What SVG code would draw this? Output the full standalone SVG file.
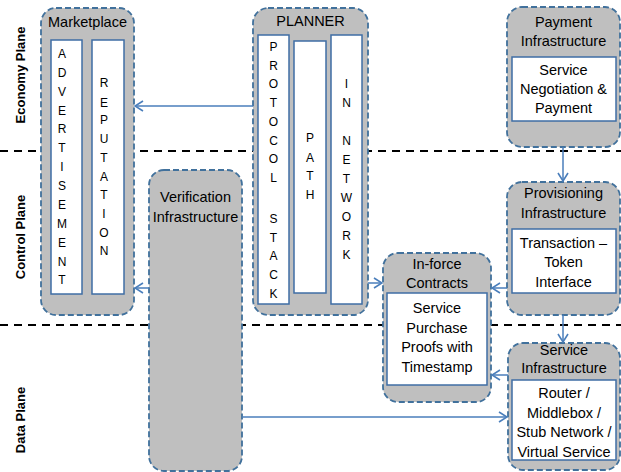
<svg xmlns="http://www.w3.org/2000/svg" width="621" height="472" viewBox="0 0 621 472">
<defs>
<style>
.outer{fill:#bfbfbf;stroke:#41719c;stroke-width:1.8;stroke-dasharray:6,3}
.inner{fill:#ffffff;stroke:#3f6ea5;stroke-width:1.5}
.t{font-family:"Liberation Sans",Arial,sans-serif;font-size:14.5px;fill:#000;text-anchor:middle}
.v{font-family:"Liberation Sans",Arial,sans-serif;font-size:12px;fill:#000;text-anchor:middle}
.plane{font-family:"Liberation Sans",Arial,sans-serif;font-size:13px;font-weight:bold;fill:#000;text-anchor:middle}
.sep{stroke:#000;stroke-width:2;stroke-dasharray:8,6;fill:none}
.conn{stroke:#4a7ebb;stroke-width:1.5;fill:none;marker-end:url(#ah)}
</style>
<marker id="ah" viewBox="0 0 10 12" refX="9" refY="6" markerWidth="10" markerHeight="12" markerUnits="userSpaceOnUse" orient="auto">
<path d="M1,1 L9,6 L1,11" fill="none" stroke="#4a7ebb" stroke-width="1.6"/>
</marker>
</defs>

<g id="planes">
<line class="sep" x1="0" y1="151" x2="621" y2="151"/>
<line class="sep" x1="0" y1="325" x2="621" y2="325"/>
<text class="plane" transform="translate(24.5,75) rotate(-90)">Economy Plane</text>
<text class="plane" transform="translate(24.5,237) rotate(-90)">Control Plane</text>
<text class="plane" transform="translate(24.5,420) rotate(-90)">Data Plane</text>
</g>

<g id="marketplace">
<rect class="outer" x="41" y="8" width="93" height="307" rx="15"/>
<text class="t" x="87.5" y="27">Marketplace</text>
<rect class="inner" x="51" y="40" width="31" height="254"/>
<rect class="inner" x="92" y="40" width="32" height="254"/>
<g class="v">
<text x="62" y="57.5">A</text><text x="62" y="76.5">D</text><text x="62" y="95.5">V</text><text x="62" y="114.5">E</text><text x="62" y="132.5">R</text><text x="62" y="151.5">T</text><text x="62" y="170.5">I</text><text x="62" y="189.5">S</text><text x="62" y="208.5">E</text><text x="62" y="227.5">M</text><text x="62" y="246.5">E</text><text x="62" y="265.5">N</text><text x="62" y="283.5">T</text>
</g>
<g class="v">
<text x="104" y="86.5">R</text><text x="104" y="106.5">E</text><text x="104" y="123.5">P</text><text x="104" y="142.5">U</text><text x="104" y="161.5">T</text><text x="104" y="180.5">A</text><text x="104" y="198.5">T</text><text x="104" y="217.5">I</text><text x="104" y="236.5">O</text><text x="104" y="254.5">N</text>
</g>
</g>

<g id="verification">
<rect class="outer" x="149" y="170" width="93" height="301" rx="15"/>
<text class="t" x="195.5" y="202">Verification</text>
<text class="t" x="195.5" y="222">Infrastructure</text>
</g>

<g id="planner">
<rect class="outer" x="253" y="8" width="115" height="307" rx="15"/>
<text class="t" x="310.5" y="26">PLANNER</text>
<rect class="inner" x="258" y="35" width="31" height="269"/>
<rect class="inner" x="294" y="41" width="32" height="252"/>
<rect class="inner" x="331" y="35" width="31" height="269"/>
<g class="v">
<text x="273.5" y="50.5">P</text><text x="273.5" y="69.5">R</text><text x="273.5" y="87.5">O</text><text x="273.5" y="106.5">T</text><text x="273.5" y="125.5">O</text><text x="273.5" y="144.5">C</text><text x="273.5" y="162.5">O</text><text x="273.5" y="181.5">L</text><text x="273.5" y="222.5">S</text><text x="273.5" y="241.5">T</text><text x="273.5" y="259.5">A</text><text x="273.5" y="278.5">C</text><text x="273.5" y="297.5">K</text>
</g>
<g class="v">
<text x="310" y="141.5">P</text><text x="310" y="161.5">A</text><text x="310" y="179.5">T</text><text x="310" y="198.5">H</text>
</g>
<g class="v">
<text x="346.5" y="87.5">I</text><text x="346.5" y="106.5">N</text><text x="346.5" y="144.5">N</text><text x="346.5" y="163.5">E</text><text x="346.5" y="182.5">T</text><text x="346.5" y="201.5">W</text><text x="346.5" y="220.5">O</text><text x="346.5" y="239.5">R</text><text x="346.5" y="258.5">K</text>
</g>
</g>

<g id="payment">
<rect class="outer" x="507" y="7" width="113" height="140" rx="15"/>
<text class="t" x="563.5" y="27">Payment</text>
<text class="t" x="563.5" y="46">Infrastructure</text>
<rect class="inner" x="512" y="57" width="104" height="64"/>
<text class="t" x="563.5" y="75">Service</text>
<text class="t" x="563.5" y="94">Negotiation &amp;</text>
<text class="t" x="563.5" y="113">Payment</text>
</g>

<g id="provisioning">
<rect class="outer" x="507" y="182" width="113" height="133" rx="15"/>
<text class="t" x="563.5" y="198">Provisioning</text>
<text class="t" x="563.5" y="218">Infrastructure</text>
<rect class="inner" x="512" y="229" width="104" height="64"/>
<text class="t" x="563.5" y="248">Transaction –</text>
<text class="t" x="563.5" y="267">Token</text>
<text class="t" x="563.5" y="287">Interface</text>
</g>

<g id="inforce">
<rect class="outer" x="383" y="253" width="108" height="149" rx="15"/>
<text class="t" x="437" y="269">In-force</text>
<text class="t" x="437" y="288">Contracts</text>
<rect class="inner" x="387" y="293" width="100" height="92"/>
<text class="t" x="437" y="313">Service</text>
<text class="t" x="437" y="333">Purchase</text>
<text class="t" x="437" y="352">Proofs with</text>
<text class="t" x="437" y="372">Timestamp</text>
</g>

<g id="service">
<rect class="outer" x="508" y="343" width="112" height="127" rx="15"/>
<text class="t" x="564" y="355">Service</text>
<text class="t" x="564" y="373">Infrastructure</text>
<rect class="inner" x="512" y="380" width="104" height="80"/>
<text class="t" x="564" y="398">Router /</text>
<text class="t" x="564" y="418">Middlebox /</text>
<text class="t" x="564" y="437">Stub Network /</text>
<text class="t" x="564" y="457">Virtual Service</text>
</g>

<g id="connectors">
<line class="conn" x1="253" y1="106" x2="135" y2="106"/>
<line class="conn" x1="149" y1="288" x2="135" y2="288"/>
<line class="conn" x1="368" y1="283" x2="382" y2="283"/>
<line class="conn" x1="563" y1="147" x2="563" y2="181"/>
<line class="conn" x1="507" y1="288" x2="492" y2="288"/>
<line class="conn" x1="563" y1="315" x2="563" y2="342"/>
<line class="conn" x1="508" y1="375" x2="492" y2="375"/>
<line class="conn" x1="242" y1="417" x2="507" y2="417"/>
</g>
</svg>
